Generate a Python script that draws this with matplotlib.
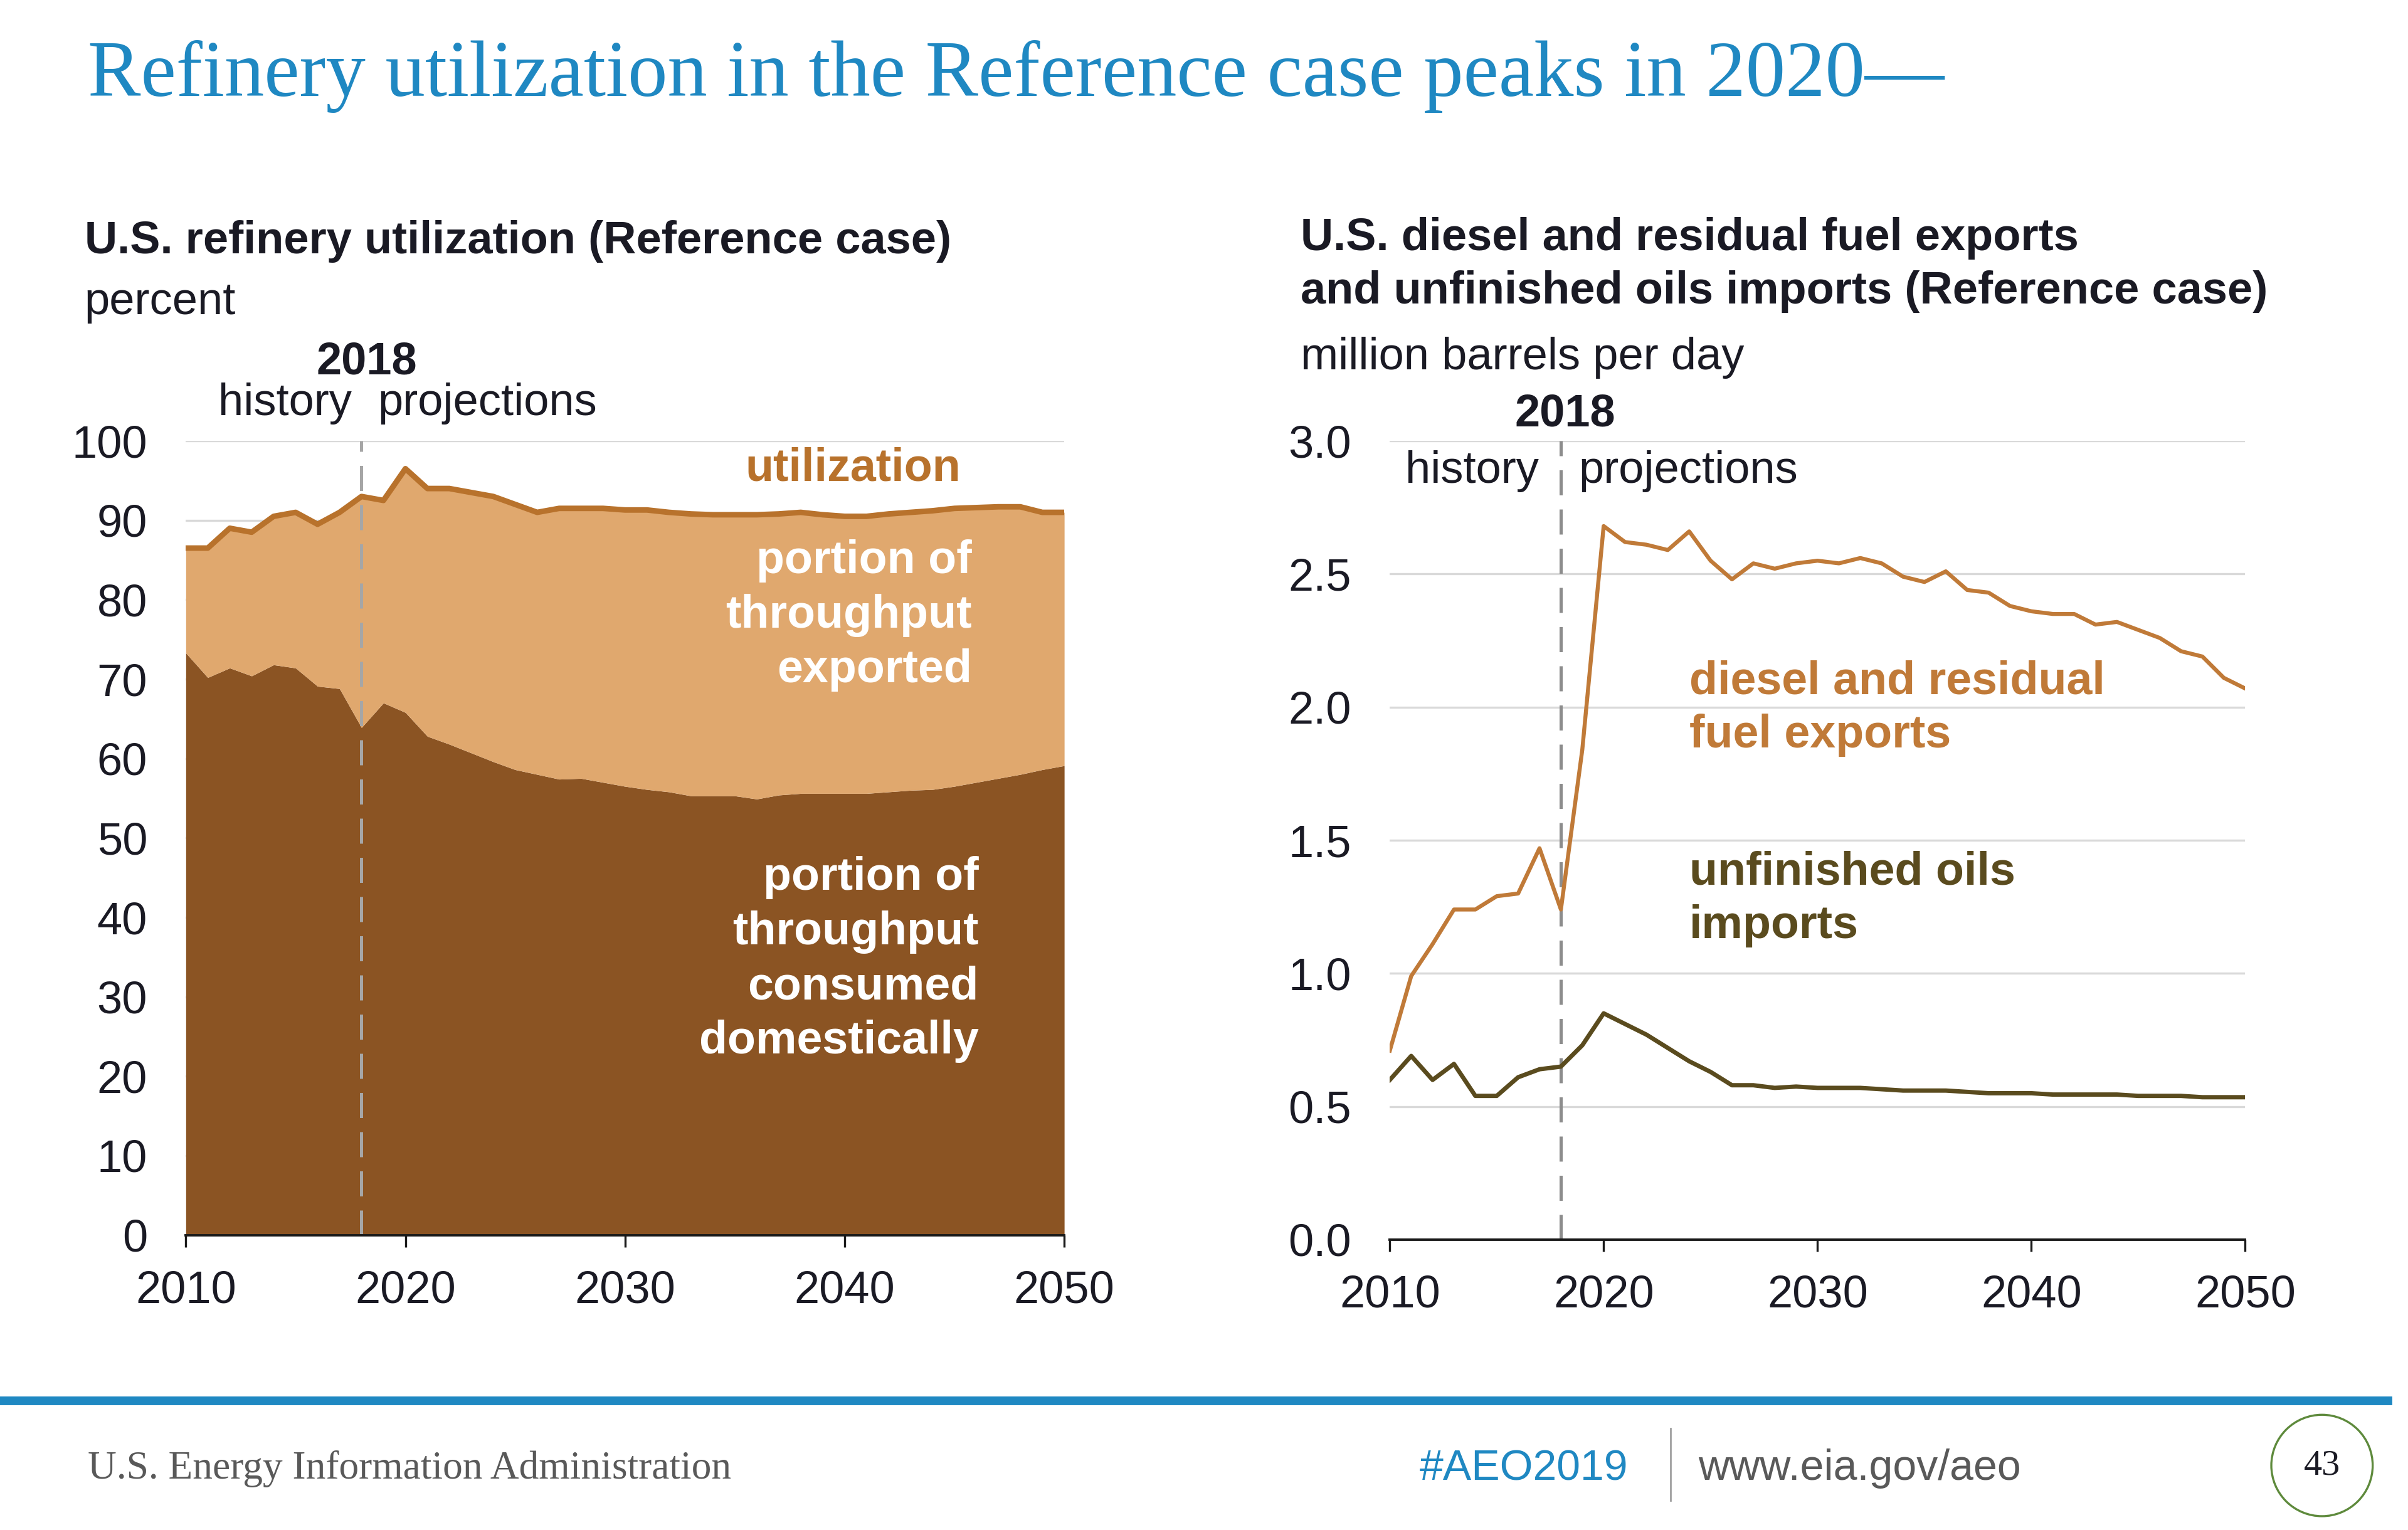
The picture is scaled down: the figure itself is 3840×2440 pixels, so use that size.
import matplotlib
matplotlib.use("Agg")
from matplotlib import pyplot as plt
from matplotlib.patches import Ellipse
import numpy as np

plt.rcParams['font.family'] = ['Liberation Sans', 'DejaVu Sans']

years = np.arange(2010, 2051)

# left chart, percent
utilization = [86.5, 86.5, 89.0, 88.5, 90.5, 91.0, 89.5, 91.0, 93.0, 92.5,
               96.5, 94.0, 94.0, 93.5, 93.0, 92.0, 91.0, 91.5, 91.5, 91.5,
               91.3, 91.3, 91.0, 90.8, 90.7, 90.7, 90.7, 90.8, 91.0, 90.7,
               90.5, 90.5, 90.8, 91.0, 91.2, 91.5, 91.6, 91.7, 91.7, 91.0,
               91.0]
domestic = [73.3, 70.2, 71.4, 70.4, 71.8, 71.4, 69.1, 68.8, 63.9, 67.0,
            65.8, 62.8, 61.8, 60.7, 59.6, 58.6, 58.0, 57.4, 57.5, 57.0,
            56.5, 56.1, 55.8, 55.3, 55.3, 55.3, 54.9, 55.4, 55.6, 55.6,
            55.6, 55.6, 55.8, 56.0, 56.1, 56.5, 57.0, 57.5, 58.0, 58.6,
            59.1]

# right chart, million barrels per day
diesel_exports = [0.71, 0.99, 1.11, 1.24, 1.24, 1.29, 1.30, 1.47, 1.24, 1.84,
                  2.68, 2.62, 2.61, 2.59, 2.66, 2.55, 2.48, 2.54, 2.52, 2.54,
                  2.55, 2.54, 2.56, 2.54, 2.49, 2.47, 2.51, 2.44, 2.43, 2.38,
                  2.36, 2.35, 2.35, 2.31, 2.32, 2.29, 2.26, 2.21, 2.19, 2.11,
                  2.07]
unfinished_imports = [0.60, 0.69, 0.60, 0.66, 0.54, 0.54, 0.61, 0.64, 0.65, 0.73,
                      0.85, 0.81, 0.77, 0.72, 0.67, 0.63, 0.58, 0.58, 0.57, 0.575,
                      0.57, 0.57, 0.57, 0.565, 0.56, 0.56, 0.56, 0.555, 0.55, 0.55,
                      0.55, 0.545, 0.545, 0.545, 0.545, 0.54, 0.54, 0.54, 0.535, 0.535,
                      0.535]

tan = '#E0A86E'
brown = '#8B5423'
util_col = '#B8722C'
diesel_col = '#C07A38'
olive = '#5A4B1E'
txt = '#1A1A24'
grid_col = '#D9D9D9'
blue = '#1F88C2'

fig = plt.figure(figsize=(19.2, 12.2), dpi=200)

def fx(x):
    return x / 1568

def fy(y):
    return 1 - y / 996

fs = 26
fa = 26.5

# title
fig.text(fx(57), fy(50), 'Refinery utilization in the Reference case peaks in 2020\u2014',
         family=['Liberation Serif'], color=blue, fontsize=45.6, va='center', ha='left')

# ---- left chart
ax1 = fig.add_axes([fx(121), fy(804), fx(693) - fx(121), fy(287) - fy(804)])
ax1.fill_between(years, 0, domestic, color=brown, lw=0, zorder=2)
ax1.fill_between(years, domestic, utilization, color=tan, lw=0, zorder=2)
ax1.plot(years, utilization, color=util_col, lw=3.2, zorder=3)
ax1.set_xlim(2010, 2050)
ax1.set_ylim(0, 100)
ax1.set_yticks(np.arange(0, 101, 10))
ax1.set_xticks(np.arange(2010, 2051, 10))
ax1.axvline(2018, color='#A6A6A6', lw=1.8, ls=(0, (8, 4.5)), zorder=4)

fig.text(fx(55), fy(157), 'U.S. refinery utilization (Reference case)', fontsize=fs,
         fontweight='bold', color=txt, va='center')
fig.text(fx(55), fy(197), 'percent', fontsize=fs, color=txt, va='center')
ax1.text(2018.25, 109.9, '2018', fontsize=fs, fontweight='bold', color=txt,
         ha='center', va='center', clip_on=False)
ax1.text(2017.55, 104.7, 'history', fontsize=fs, color=txt, ha='right', va='center')
ax1.text(2018.75, 104.7, 'projections', fontsize=fs, color=txt, ha='left', va='center')
ax1.text(2045.3, 96.5, 'utilization', fontsize=fa, fontweight='bold',
         color=util_col, ha='right', va='center', zorder=5)
ax1.text(2045.8, 78.0, 'portion of\nthroughput\nexported', fontsize=fa,
         fontweight='bold', color='white', ha='right', va='center',
         multialignment='right', linespacing=1.33, zorder=5)
ax1.text(2046.1, 34.7, 'portion of\nthroughput\nconsumed\ndomestically', fontsize=fa,
         fontweight='bold', color='white', ha='right', va='center',
         multialignment='right', linespacing=1.33, zorder=5)

# ---- right chart
ax2 = fig.add_axes([fx(905), fy(807), fx(1462) - fx(905), fy(287) - fy(807)])
ax2.plot(years, diesel_exports, color=diesel_col, lw=2.3, zorder=3)
ax2.plot(years, unfinished_imports, color=olive, lw=2.5, zorder=3)
ax2.set_xlim(2010, 2050)
ax2.set_ylim(0, 3.0)
ax2.set_yticks(np.arange(0, 3.01, 0.5))
ax2.set_yticklabels(['%.1f' % v for v in np.arange(0, 3.01, 0.5)])
ax2.set_xticks(np.arange(2010, 2051, 10))
ax2.axvline(2018, color='#8C8C8C', lw=1.8, ls=(0, (8, 4.5)), zorder=2)

fig.text(fx(847), fy(172.5), 'U.S. diesel and residual fuel exports\nand unfinished oils imports (Reference case)',
         fontsize=fs, fontweight='bold', color=txt, va='center', linespacing=1.33)
fig.text(fx(847), fy(233), 'million barrels per day', fontsize=fs, color=txt, va='center')
ax2.text(2018.2, 3.1, '2018', fontsize=fs, fontweight='bold', color=txt,
         ha='center', va='center', clip_on=False)
ax2.text(2016.97, 2.885, 'history', fontsize=fs, color=txt, ha='right', va='center')
ax2.text(2018.83, 2.885, 'projections', fontsize=fs, color=txt, ha='left', va='center')
ax2.text(2024.0, 1.995, 'diesel and residual\nfuel exports', fontsize=fa,
         fontweight='bold', color=diesel_col, ha='left', va='center', linespacing=1.3)
ax2.text(2024.0, 1.28, 'unfinished oils\nimports', fontsize=fa,
         fontweight='bold', color=olive, ha='left', va='center', linespacing=1.3)

for ax in (ax1, ax2):
    for s in ('top', 'right', 'left'):
        ax.spines[s].set_visible(False)
    ax.spines['bottom'].set_color('#1A1A1A')
    ax.spines['bottom'].set_linewidth(1.4)
    ax.spines['bottom'].set_zorder(6)
    ax.grid(axis='y', color=grid_col, lw=1.2, zorder=0)
    ax.set_axisbelow(True)
    ax.tick_params(axis='y', length=0, pad=22, labelsize=fs, labelcolor=txt)
    ax.tick_params(axis='x', length=7, width=1.2, direction='out', pad=13,
                   labelsize=fs, labelcolor=txt, color='#1A1A1A')

# ---- footer
fig.add_artist(plt.Line2D([0, fx(1555)], [fy(912), fy(912)], color=blue, lw=5,
                          transform=fig.transFigure))
fig.text(fx(57), fy(956), 'U.S. Energy Information Administration', family=['Liberation Serif'],
         fontsize=22.8, color='#595959', va='center')
fig.text(fx(1060), fy(956), '#AEO2019', fontsize=24.5, color=blue, va='center', ha='right')
fig.add_artist(plt.Line2D([fx(1088), fx(1088)], [fy(930), fy(977)], color='#A0A0A0', lw=1,
                          transform=fig.transFigure))
fig.text(fx(1106), fy(956), 'www.eia.gov/aeo', fontsize=24.5, color='#595959', va='center')
fig.add_artist(Ellipse((fx(1512), fy(954)), 2 * 33 / 1568, 2 * 33 / 996, fill=False,
                       edgecolor='#5E8A3C', lw=1.2, transform=fig.transFigure))
fig.text(fx(1512), fy(954), '43', family=['Liberation Serif'], fontsize=21,
         color=txt, va='center', ha='center')

fig.savefig('out.png', dpi=200, facecolor='white')
